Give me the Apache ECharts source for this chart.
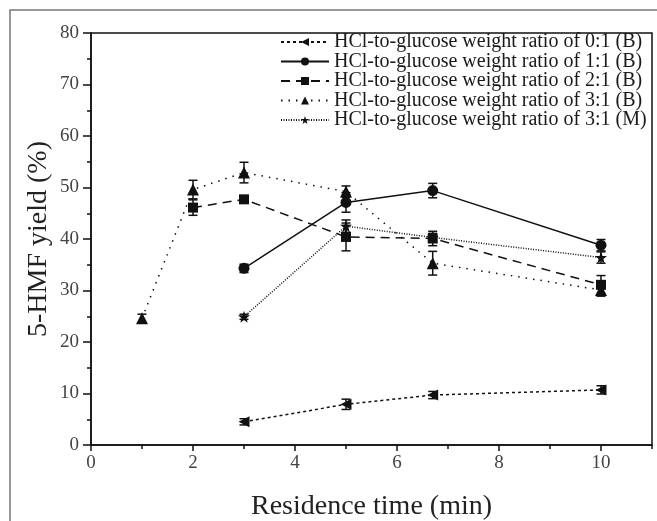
<!DOCTYPE html>
<html>
<head>
<meta charset="utf-8">
<script src="https://cdn.jsdelivr.net/npm/echarts@6/dist/echarts.min.js"></script>
<style>
  html, body { margin: 0; padding: 0; background: #fff; }
  #main { width: 657px; height: 521px; }
</style>
</head>
<body>
<div id="main"></div>
<script>
// series names (legend)
var seriesNames = [
    'HCl-to-glucose weight ratio of 0:1 (B)',
    'HCl-to-glucose weight ratio of 1:1 (B)',
    'HCl-to-glucose weight ratio of 2:1 (B)',
    'HCl-to-glucose weight ratio of 3:1 (B)',
    'HCl-to-glucose weight ratio of 3:1 (M)'
];

// residence time (min), yield (%), error (+/-)
var time0 = [3, 5, 6.7, 10];
var yield0 = [4.5, 7.9, 9.7, 10.7];
var err0 = [0.6, 1.0, 0.7, 0.8];

var time1 = [3, 5, 6.7, 10];
var yield1 = [34.3, 47.1, 49.4, 38.8];
var err1 = [0.8, 1.9, 1.4, 1.1];

var time2 = [2, 3, 5, 6.7, 10];
var yield2 = [46.1, 47.7, 40.4, 40.1, 31.1];
var err2 = [1.5, 0.6, 2.7, 1.4, 1.8];

var time3 = [1, 2, 3, 5, 6.7, 10];
var yield3 = [24.6, 49.6, 52.9, 49.2, 35.3, 30.1];
var err3 = [0.8, 1.8, 2.0, 1.1, 2.3, 1.2];

var timeM = [3, 5, 6.7, 10];
var yieldM = [24.9, 42.5, 40.3, 36.4];
var errM = [0.5, 1.2, 0.8, 1.1];

// axis ticks
var xMajorTicks = [0, 2, 4, 6, 8, 10];
var xMinorTicks = [1, 3, 5, 7, 9, 11];

var FONT = 'Liberation Serif';
var INK = '#111';

var starPath = 'path://M0,-10 L2.35,-3.24 9.51,-3.09 3.8,1.24 5.88,8.09 0,4 -5.88,8.09 -3.8,1.24 -9.51,-3.09 -2.35,-3.24Z';

function pairs(xs, ys) {
    return xs.map(function (x, i) { return [x, ys[i]]; });
}
function triples(xs, ys, es) {
    return xs.map(function (x, i) { return [x, ys[i], es[i]]; });
}

// error bars drawn as custom series
function errorBars(xs, ys, es) {
    return {
        type: 'custom',
        silent: true,
        z: 1,
        data: triples(xs, ys, es),
        renderItem: function (params, api) {
            var x = api.value(0), y = api.value(1), e = api.value(2);
            var top = api.coord([x, y + e]);
            var bot = api.coord([x, y - e]);
            var w = 4.5;
            var st = { stroke: INK, lineWidth: 1.5 };
            return {
                type: 'group',
                children: [
                    { type: 'line', shape: { x1: top[0], y1: top[1], x2: bot[0], y2: bot[1] }, style: st },
                    { type: 'line', shape: { x1: top[0] - w, y1: top[1], x2: top[0] + w, y2: top[1] }, style: st },
                    { type: 'line', shape: { x1: bot[0] - w, y1: bot[1], x2: bot[0] + w, y2: bot[1] }, style: st }
                ]
            };
        }
    };
}

function lineSeries(name, xs, ys, symbol, size, dash, rotate) {
    return {
        name: name,
        type: 'line',
        data: pairs(xs, ys),
        symbol: symbol,
        symbolSize: size,
        symbolRotate: rotate || 0,
        showAllSymbol: true,
        z: 3,
        itemStyle: { color: INK },
        lineStyle: { color: INK, width: 1.5, type: dash }
    };
}

var myChart = echarts.init(document.getElementById('main'), null, { renderer: 'canvas' });

var option = {
    backgroundColor: '#fff',
    animation: false,
    textStyle: { fontFamily: FONT },
    graphic: [{
        type: 'rect',
        shape: { x: 10, y: 10, width: 700, height: 600 },
        style: { fill: 'none', stroke: '#777', lineWidth: 1.5 },
        silent: true
    }],
    grid: {
        left: 91, top: 33, right: 5, bottom: 76,
        outerBoundsMode: 'none',
        show: true, borderColor: INK, borderWidth: 1.5
    },
    legend: {
        left: 275, top: 27,
        orient: 'vertical',
        itemWidth: 48, itemHeight: 10, itemGap: -0.5,
        data: seriesNames,
        textStyle: { fontFamily: FONT, fontSize: 20, lineHeight: 19.5, color: '#1a1a1a' }
    },
    xAxis: [{
        type: 'value', min: 0, max: 11,
        name: 'Residence time (min)',
        nameLocation: 'middle', nameGap: 48,
        nameTextStyle: { fontFamily: FONT, fontSize: 28, color: '#222' },
        axisLine: { lineStyle: { color: INK, width: 1.5 } },
        axisTick: { customValues: xMajorTicks, length: 6, lineStyle: { color: INK, width: 1.5 } },
        axisLabel: { customValues: xMajorTicks, margin: 9, fontFamily: FONT, fontSize: 19, color: '#444' },
        splitLine: { show: false }
    }, {
        type: 'value', min: 0, max: 11, position: 'bottom',
        axisLine: { show: false },
        axisTick: { customValues: xMinorTicks, length: 4, lineStyle: { color: INK, width: 1.5 } },
        axisLabel: { show: false },
        splitLine: { show: false }
    }],
    yAxis: {
        type: 'value', min: 0, max: 80, interval: 10,
        name: '5-HMF yield (%)',
        nameLocation: 'middle', nameGap: 38, nameMoveOverlap: false,
        nameTextStyle: { fontFamily: FONT, fontSize: 28, color: '#222' },
        axisLine: { show: true, lineStyle: { color: INK, width: 1.5 } },
        axisTick: { show: true, length: 8, lineStyle: { color: INK, width: 1.5 } },
        minorTick: { show: true, splitNumber: 2, length: 4, lineStyle: { color: INK, width: 1.5 } },
        axisLabel: { margin: 12, fontFamily: FONT, fontSize: 19, color: '#444' },
        splitLine: { show: false }
    },
    series: [
        lineSeries(seriesNames[0], time0, yield0, 'triangle', 11, [3, 3], 90),
        lineSeries(seriesNames[1], time1, yield1, 'circle', 11, 'solid'),
        lineSeries(seriesNames[2], time2, yield2, 'rect', 10, [9, 6]),
        lineSeries(seriesNames[3], time3, yield3, 'triangle', 12, [1.5, 6]),
        lineSeries(seriesNames[4], timeM, yieldM, starPath, 12, [1, 1.5]),
        errorBars(time0, yield0, err0),
        errorBars(time1, yield1, err1),
        errorBars(time2, yield2, err2),
        errorBars(time3, yield3, err3),
        errorBars(timeM, yieldM, errM)
    ]
};

myChart.setOption(option);
</script>
</body>
</html>
